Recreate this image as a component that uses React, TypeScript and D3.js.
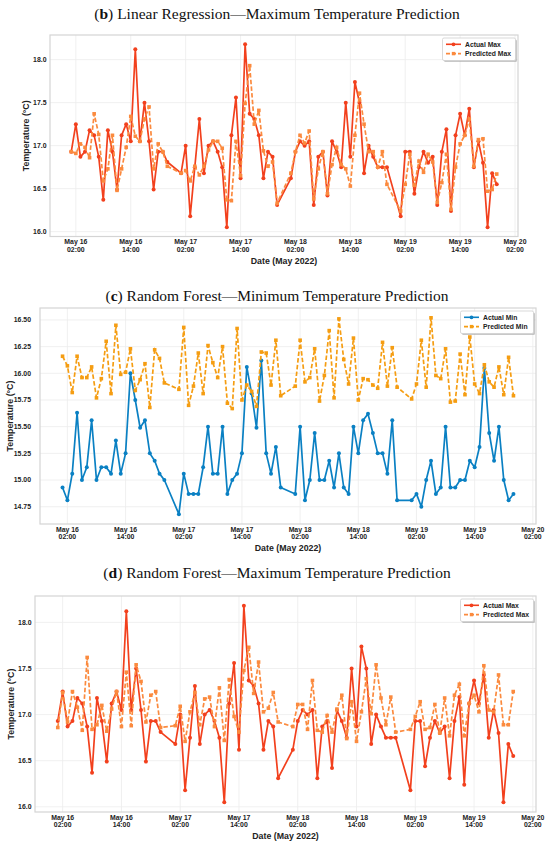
import React, { useEffect, useRef } from 'react';
import * as d3 from 'd3';

// hours after 2022-05-16 00:00 (readings 01:00-22:00 each day)
const hours = [
  1, 2, 3, 4, 5, 6, 7, 8, 9, 10, 11, 12, 13, 14, 15, 16, 17, 18, 19, 20, 21, 22,
  25, 26, 27, 28, 29, 30, 31, 32, 33, 34, 35, 36, 37, 38, 39, 40, 41, 42, 43, 44, 45, 46,
  49, 50, 51, 52, 53, 54, 55, 56, 57, 58, 59, 60, 61, 62, 63, 64, 65, 66, 67, 68, 69, 70,
  73, 74, 75, 76, 77, 78, 79, 80, 81, 82, 83, 84, 85, 86, 87, 88, 89, 90, 91, 92, 93, 94,
];

const actualMax = [
  16.93, 17.25, 16.87, 16.93, 17.18, 17.12, 16.87, 16.37, 17.18, 16.93, 16.49, 17.12, 17.25, 17.05, 18.12, 17.05, 17.5, 17.05, 16.49, 16.93, 16.93, 16.81,
  16.68, 17.0, 16.18, 16.75, 17.31, 16.68, 17.0, 17.05, 16.93, 16.75, 16.05, 17.12, 17.56, 16.62, 18.18, 17.37, 17.31, 17.12, 16.62, 16.93, 16.87, 16.31,
  16.62, 16.93, 17.05, 17.0, 17.05, 16.31, 16.87, 16.93, 16.42, 17.05, 16.93, 16.75, 17.5, 16.87, 17.74, 17.5, 16.68, 17.0, 16.87, 16.75, 16.75, 16.75,
  16.18, 16.93, 16.93, 16.44, 16.75, 16.93, 16.8, 16.87, 16.31, 16.93, 17.19, 16.24, 17.12, 17.37, 17.12, 17.43, 16.75, 17.05, 16.8, 16.05, 16.68, 16.55,
];

const predLRMax = [
  16.93, 16.91, 17.02, 16.98, 16.86, 17.37, 17.13, 16.59, 16.73, 17.12, 16.48, 16.73, 16.98, 17.34, 17.11, 17.05, 17.31, 17.45, 16.73, 17.02, 16.93, 16.76,
  16.68, 16.71, 16.59, 16.76, 16.66, 16.76, 16.95, 17.05, 17.05, 16.97, 16.37, 16.36, 17.05, 16.65, 17.49, 17.93, 17.25, 17.41, 16.94, 16.76, 16.81, 16.33,
  16.68, 16.93, 17.12, 17.03, 17.17, 16.38, 16.73, 16.93, 16.44, 16.78, 16.98, 16.78, 16.73, 16.53, 17.12, 17.61, 17.25, 16.93, 16.93, 16.75, 16.93, 16.55,
  16.24, 16.55, 16.9, 16.54, 16.82, 16.69, 16.9, 16.81, 16.34, 16.57, 16.9, 16.26, 16.75, 17.02, 17.12, 17.31, 16.76, 17.07, 17.08, 16.47, 16.49, 16.67,
];

const predRFMax = [
  16.86, 17.24, 16.92, 17.25, 17.08, 16.83, 17.62, 16.84, 16.89, 17.1, 16.82, 17.06, 17.25, 16.87, 17.46, 16.88, 17.54, 17.36, 16.92, 17.21, 17.25, 16.86,
  16.88, 17.09, 16.71, 17.03, 17.24, 16.89, 17.17, 17.19, 16.87, 17.29, 16.72, 17.38, 16.98, 16.81, 17.48, 17.73, 17.23, 17.57, 17.03, 17.07, 17.24, 16.92,
  16.87, 17.11, 17.11, 16.84, 17.37, 16.83, 16.81, 16.99, 16.81, 17.06, 17.21, 16.74, 17.14, 16.71, 17.03, 17.39, 17.01, 17.54, 17.18, 16.89, 17.19, 16.81,
  16.84, 16.98, 17.14, 16.84, 16.86, 17.11, 16.8, 17.18, 16.77, 17.21, 17.33, 16.77, 17.12, 17.21, 17.03, 17.53, 17.05, 17.03, 17.43, 16.89, 16.89, 17.25,
];

const actualMin = [
  14.93, 14.81, 15.06, 15.63, 15.0, 15.12, 15.56, 15.0, 15.12, 15.12, 15.06, 15.37, 15.06, 15.25, 16.0, 15.75, 15.49, 15.56, 15.25, 15.18, 15.06, 15.0,
  14.68, 15.06, 14.87, 14.87, 14.87, 15.12, 15.5, 15.06, 15.06, 15.5, 14.87, 15.0, 15.06, 15.25, 16.06, 15.81, 15.49, 16.12, 15.25, 15.06, 15.31, 14.93,
  14.87, 15.5, 14.81, 15.0, 15.44, 15.0, 15.0, 15.18, 14.93, 15.25, 14.93, 14.87, 15.5, 15.25, 15.56, 15.62, 15.44, 15.25, 15.25, 15.06, 15.56, 14.81,
  14.81, 14.87, 14.75, 15.0, 15.18, 14.87, 14.93, 15.5, 14.93, 14.93, 15.0, 15.0, 15.18, 15.12, 15.31, 16.05, 15.44, 15.18, 15.5, 15.0, 14.81, 14.87,
];

const predRFMin = [
  16.16, 16.07, 15.82, 16.16, 15.96, 15.96, 16.06, 15.77, 15.95, 16.3, 15.81, 16.45, 15.99, 16.01, 16.23, 15.84, 15.94, 16.09, 15.68, 16.22, 16.14, 15.91,
  15.85, 16.43, 15.7, 15.88, 16.19, 15.81, 16.26, 16.1, 15.96, 16.25, 15.72, 15.67, 16.42, 15.75, 15.89, 15.83, 15.69, 16.2, 16.19, 15.89, 16.31, 15.79,
  15.88, 16.31, 15.92, 15.96, 16.23, 15.74, 15.98, 16.4, 15.77, 16.51, 16.13, 15.9, 16.33, 15.75, 15.95, 15.94, 15.89, 15.86, 16.29, 15.88, 16.24, 15.87,
  15.76, 15.9, 16.31, 15.87, 16.52, 15.98, 15.95, 16.23, 15.73, 15.74, 16.18, 15.8, 16.34, 15.9, 15.81, 16.08, 15.92, 15.87, 16.06, 15.8, 16.15, 15.79,
];

const maxTicks = [16.0, 16.5, 17.0, 17.5, 18.0];
const minTicks = [14.75, 15.0, 15.25, 15.5, 15.75, 16.0, 16.25, 16.5];
// x ticks every 12 h from May 16 02:00
const xTickHours = [2, 14, 26, 38, 50, 62, 74, 86, 98];

const BASE = new Date(2022, 4, 16, 0, 0).getTime();
const toDate = (h: number) => new Date(BASE + h * 3600 * 1000);

interface Panel {
  letter: string;
  title: string;
  actual: number[];
  pred: number[];
  actualLabel: string;
  predLabel: string;
  actualColor: string;
  predColor: string;
  yTicks: number[];
  yFmt: string;
  box: { left: number; right: number; top: number; bottom: number };
  titleY: number;
}

const RED = '#f2401d';
const LIGHT_ORANGE = '#fb8a3e';

const panels: Panel[] = [
  {
    letter: 'b',
    title: 'Linear Regression\u2014Maximum Temperature Prediction',
    actual: actualMax,
    pred: predLRMax,
    actualLabel: 'Actual Max',
    predLabel: 'Predicted Max',
    actualColor: RED,
    predColor: LIGHT_ORANGE,
    yTicks: maxTicks,
    yFmt: '.1f',
    box: { left: 50, right: 518, top: 35, bottom: 236.5 },
    titleY: 19,
  },
  {
    letter: 'c',
    title: 'Random Forest\u2014Minimum Temperature Prediction',
    actual: actualMin,
    pred: predRFMin,
    actualLabel: 'Actual Min',
    predLabel: 'Predicted Min',
    actualColor: '#0a80c3',
    predColor: '#f59d12',
    yTicks: minTicks,
    yFmt: '.2f',
    box: { left: 40, right: 536, top: 308, bottom: 524 },
    titleY: 301,
  },
  {
    letter: 'd',
    title: 'Random Forest\u2014Maximum Temperature Prediction',
    actual: actualMax,
    pred: predRFMax,
    actualLabel: 'Actual Max',
    predLabel: 'Predicted Max',
    actualColor: RED,
    predColor: LIGHT_ORANGE,
    yTicks: maxTicks,
    yFmt: '.1f',
    box: { left: 35, right: 536, top: 596, bottom: 812 },
    titleY: 578,
  },
];

const WIDTH = 550;
const HEIGHT = 847;
const SANS = '"Liberation Sans", Arial, sans-serif';
const SERIF = '"Liberation Serif", "DejaVu Serif", serif';

const App: React.FC = () => {
  const svgRef = useRef<SVGSVGElement>(null);

  useEffect(() => {
    if (!svgRef.current) return;
    const svg = d3.select(svgRef.current);
    svg.selectAll('*').remove();

    svg.append('rect').attr('width', WIDTH).attr('height', HEIGHT).attr('fill', '#fff');

    panels.forEach((p) => {
      const { left, right, top, bottom } = p.box;
      const g = svg.append('g');

      // matplotlib-style 5% margins
      const h0 = hours[0];
      const h1 = hours[hours.length - 1];
      const hp = (h1 - h0) * 0.05;
      const x = d3.scaleTime().domain([toDate(h0 - hp), toDate(h1 + hp)]).range([left, right]);

      const [mn, mx] = d3.extent(p.actual.concat(p.pred)) as [number, number];
      const vp = (mx - mn) * 0.05;
      const y = d3.scaleLinear().domain([mn - vp, mx + vp]).range([bottom, top]);

      // title
      const title = g.append('text')
        .attr('x', 277)
        .attr('y', p.titleY)
        .attr('text-anchor', 'middle')
        .style('font-family', SERIF)
        .style('font-size', '15.5px')
        .style('fill', '#111');
      title.append('tspan').text('(');
      title.append('tspan').style('font-weight', 'bold').text(p.letter);
      title.append('tspan').text(') ' + p.title);

      // grid
      const xTicks = xTickHours.map(toDate);
      g.selectAll('.vgrid')
        .data(xTicks)
        .enter()
        .append('line')
        .attr('x1', (d) => x(d))
        .attr('x2', (d) => x(d))
        .attr('y1', top)
        .attr('y2', bottom)
        .style('stroke', '#ececec')
        .style('stroke-width', 0.8);
      g.selectAll('.hgrid')
        .data(p.yTicks)
        .enter()
        .append('line')
        .attr('x1', left)
        .attr('x2', right)
        .attr('y1', (d) => y(d))
        .attr('y2', (d) => y(d))
        .style('stroke', '#ececec')
        .style('stroke-width', 0.8);

      // frame
      g.append('rect')
        .attr('x', left)
        .attr('y', top)
        .attr('width', right - left)
        .attr('height', bottom - top)
        .style('fill', 'none')
        .style('stroke', '#d4d4d4')
        .style('stroke-width', 1.2);

      // y tick labels
      const fmt = d3.format(p.yFmt);
      g.selectAll('.ytick')
        .data(p.yTicks)
        .enter()
        .append('text')
        .attr('x', left - (p.yFmt === '.2f' ? 9 : 3.5))
        .attr('y', (d) => y(d) + 2.4)
        .attr('text-anchor', 'end')
        .style('font-family', SANS)
        .style('font-weight', 'bold')
        .style('font-size', '6.9px')
        .style('fill', '#222')
        .text((d) => fmt(d));

      // x tick labels (two lines)
      const fmtDay = d3.timeFormat('%b %-d');
      const fmtHour = d3.timeFormat('%H:%M');
      const xt = g.selectAll('.xtick')
        .data(xTicks)
        .enter()
        .append('text')
        .attr('text-anchor', 'middle')
        .style('font-family', SANS)
        .style('font-weight', 'bold')
        .style('font-size', '6.9px')
        .style('fill', '#222');
      xt.append('tspan').attr('x', (d) => x(d)).attr('y', bottom + 7.5).text((d) => fmtDay(d));
      xt.append('tspan').attr('x', (d) => x(d)).attr('y', bottom + 15.3).text((d) => fmtHour(d));

      // axis labels
      g.append('text')
        .attr('x', (left + right) / 2)
        .attr('y', bottom + 27)
        .attr('text-anchor', 'middle')
        .style('font-family', SANS)
        .style('font-weight', 'bold')
        .style('font-size', '8.8px')
        .style('fill', '#222')
        .text('Date (May 2022)');
      g.append('text')
        .attr('transform', `translate(${left - (p.yFmt === '.2f' ? 27 : 21)},${(top + bottom) / 2}) rotate(-90)`)
        .attr('text-anchor', 'middle')
        .style('font-family', SANS)
        .style('font-weight', 'bold')
        .style('font-size', '8.8px')
        .style('fill', '#222')
        .text('Temperature (\u00b0C)');

      // series
      const line = (vals: number[]) =>
        d3.line<number>()
          .x((_, i) => x(toDate(hours[i])))
          .y((d) => y(d))(vals);

      g.append('path')
        .attr('d', line(p.actual))
        .style('fill', 'none')
        .style('stroke', p.actualColor)
        .style('stroke-width', 1.7)
        .style('stroke-linejoin', 'round');
      g.selectAll('.adot')
        .data(p.actual)
        .enter()
        .append('circle')
        .attr('cx', (_, i) => x(toDate(hours[i])))
        .attr('cy', (d) => y(d))
        .attr('r', 2)
        .style('fill', p.actualColor);

      g.append('path')
        .attr('d', line(p.pred))
        .style('fill', 'none')
        .style('stroke', p.predColor)
        .style('stroke-width', 1.7)
        .style('stroke-dasharray', '4.5,2.2');
      g.selectAll('.pdot')
        .data(p.pred)
        .enter()
        .append('rect')
        .attr('x', (_, i) => x(toDate(hours[i])) - 1.8)
        .attr('y', (d) => y(d) - 1.8)
        .attr('width', 3.6)
        .attr('height', 3.6)
        .style('fill', p.predColor);

      // legend
      const lw = 73;
      const lh = 22.5;
      const lx = right - 2.5 - lw;
      const ly = top + 3;
      g.append('rect')
        .attr('x', lx + 1.5)
        .attr('y', ly + 1.5)
        .attr('width', lw)
        .attr('height', lh)
        .attr('rx', 1.5)
        .style('fill', '#9a9a9a')
        .style('opacity', 0.55);
      g.append('rect')
        .attr('x', lx)
        .attr('y', ly)
        .attr('width', lw)
        .attr('height', lh)
        .attr('rx', 1.5)
        .style('fill', '#fff')
        .style('stroke', '#cfcfcf')
        .style('stroke-width', 0.8);
      const items = [
        { label: p.actualLabel, color: p.actualColor, dash: null as string | null, square: false },
        { label: p.predLabel, color: p.predColor, dash: '4,2', square: true },
      ];
      items.forEach((it, i) => {
        const cy = ly + 6.3 + i * 9.3;
        g.append('line')
          .attr('x1', lx + 3.5)
          .attr('x2', lx + 18.5)
          .attr('y1', cy)
          .attr('y2', cy)
          .style('stroke', it.color)
          .style('stroke-width', 1.6)
          .style('stroke-dasharray', it.dash);
        if (it.square) {
          g.append('rect')
            .attr('x', lx + 11 - 1.7)
            .attr('y', cy - 1.7)
            .attr('width', 3.4)
            .attr('height', 3.4)
            .style('fill', it.color);
        } else {
          g.append('circle').attr('cx', lx + 11).attr('cy', cy).attr('r', 1.9).style('fill', it.color);
        }
        g.append('text')
          .attr('x', lx + 22.5)
          .attr('y', cy + 2.4)
          .style('font-family', SANS)
          .style('font-weight', 'bold')
          .style('font-size', '6.8px')
          .style('fill', '#222')
          .text(it.label);
      });
    });
  }, []);

  return (
    <>
      <style>{`body { margin: 0; }`}</style>
      <svg
        ref={svgRef}
        width={WIDTH}
        height={HEIGHT}
        style={{ position: 'absolute', left: 0, top: 0, display: 'block' }}
      />
    </>
  );
};

export default App;
